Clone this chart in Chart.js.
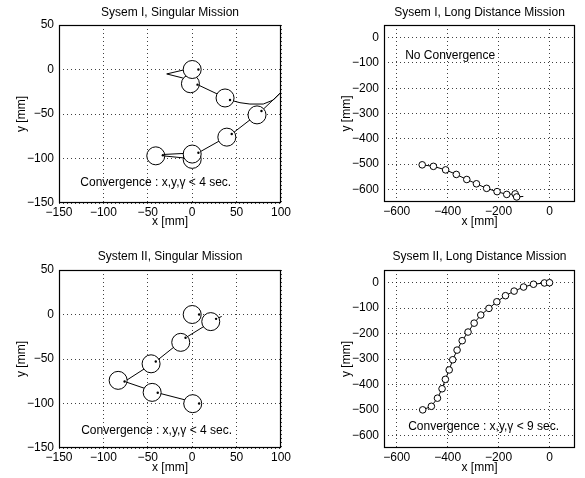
<!DOCTYPE html>
<html><head><meta charset="utf-8">
<script src="https://cdn.jsdelivr.net/npm/chart.js@4/dist/chart.umd.min.js"></script>
<style>
html,body{margin:0;padding:0;background:#fff;}
#wrap{position:relative;width:585px;height:478px;background:#fff;}
canvas{position:absolute;}
</style></head><body>
<div id="wrap">
<canvas id="c1" width="292" height="238" style="left:0px;top:0px;width:292px;height:238px"></canvas>
<canvas id="c2" width="293" height="238" style="left:292px;top:0px;width:293px;height:238px"></canvas>
<canvas id="c3" width="292" height="240" style="left:0px;top:238px;width:292px;height:240px"></canvas>
<canvas id="c4" width="293" height="240" style="left:292px;top:238px;width:293px;height:240px"></canvas>
</div>
<script>
// ---------- tick labels ----------
const xTicksSingular = [-150, -100, -50, 0, 50, 100];
const yTicksSingular = [-150, -100, -50, 0, 50];
const xTicksLong = [-600, -400, -200, 0];
const yTicksLong = [-600, -500, -400, -300, -200, -100, 0];

// ---------- System I, singular mission ----------
const s1PathX = [7, -33, -33, 7, 44.5, 78, 98.9, 91.3, 80, 65, 53.8, 42.6, 6, -10.7, -28.7, -10, 7];
const s1PathY = [-101, -97, -95.5, -93.5, -72.5, -46.6, -26.7, -34.3, -38.8, -38.8, -37.3, -34.3, -17, -9.5, -5, -0.6, 0];
const s1BodyX = [0, -41, 0, 39, 73, 37, -2, 0];
const s1BodyY = [-101, -97, -95, -76, -51, -32, -16, 0];
const s1HeadX = [-33, 7, 44.5, 78, 42.6, 6, 7];
const s1HeadY = [-96.4, -93.5, -72.5, -46.6, -34.3, -17, 0];

// ---------- System I, long distance mission ----------
const l1X = [-500, -456, -408, -366, -325, -287, -247, -206, -168, -135, -129];
const l1Y = [-503, -509, -523, -541, -561, -578, -596, -609, -620, -618, -630];
const l1TailX = [-129, -103];
const l1TailY = [-630, -628];

// ---------- System II, singular mission ----------
const s2PathX = [7.8, -38.8, -76.1, -41, -7.5, 26.9, 33.2];
const s2PathY = [-100, -88, -75.3, -52.8, -26.2, -4.9, -2.2];
const s2BodyX = [0.6, -45.1, -83.4, -46.3, -12.9, 20.9, 0];
const s2BodyY = [-100.2, -87.5, -74, -55.4, -31.3, -8, 0];
const s2HeadX = [7.8, -38.8, -76.1, -41, -7.5, 26.9, 7.8];
const s2HeadY = [-100, -88, -75.3, -52.8, -26.2, -4.9, 0];

// ---------- System II, long distance mission ----------
const l2X = [-498, -464, -440, -422, -409, -394, -380, -363, -343, -320, -296, -270, -238, -207, -173, -139, -102, -63, -20, 0];
const l2Y = [-500, -486, -454, -417, -380, -343, -303, -265, -228, -194, -159, -127, -101, -75, -51, -33, -17, -6, -1, 0];

// ---------- helpers ----------
const FAMILY = '"Liberation Sans", Arial, Helvetica, sans-serif';
const FS = 12;
Chart.defaults.font.family = FAMILY;
Chart.defaults.font.size = FS;
Chart.defaults.color = '#000';

function fmt(v) { return v < 0 ? '\u2212' + Math.abs(v) : String(v); }
function pts(xs, ys) { return xs.map((x, i) => ({x: x, y: ys[i]})); }

const boxPlugin = {
  id: 'box',
  afterDraw(chart) {
    const a = chart.chartArea, ctx = chart.ctx;
    ctx.save();
    ctx.strokeStyle = '#000';
    ctx.lineWidth = 1.2;
    ctx.strokeRect(Math.round(a.left) + 0.5, Math.round(a.top) + 0.5,
                   Math.round(a.right - a.left) - 1, Math.round(a.bottom - a.top) - 1);
    ctx.restore();
  }
};
const notePlugin = {
  id: 'note',
  afterDatasetsDraw(chart, args, opts) {
    if (!opts || !opts.text) return;
    const ctx = chart.ctx;
    const x = chart.scales.x.getPixelForValue(opts.x);
    const y = chart.scales.y.getPixelForValue(opts.y);
    ctx.save();
    ctx.font = FS + 'px ' + FAMILY;
    ctx.fillStyle = '#000';
    ctx.textAlign = 'left';
    ctx.textBaseline = 'middle';
    ctx.fillText(opts.text, x, y);
    ctx.restore();
  }
};

function makeScale(axis, min, max, ticks, title, size, titlePad, tickPad) {
  return {
    type: 'linear',
    position: axis === 'x' ? 'bottom' : 'left',
    min: min, max: max, bounds: 'data',
    afterBuildTicks: s => { s.ticks = ticks.map(v => ({value: v})); },
    afterFit: s => {
      if (axis === 'x') s.height = size; else s.width = size;
      s.paddingLeft = 0; s.paddingRight = 0; s.paddingTop = 0; s.paddingBottom = 0;
    },
    ticks: { callback: v => fmt(v), padding: tickPad, color: '#000', font: {size: FS},
             autoSkip: false, maxRotation: 0, minRotation: 0 },
    grid: { color: 'rgba(0,0,0,0.75)', lineWidth: 1, drawTicks: false },
    border: { display: false, dash: [1, 3] },
    title: { display: true, text: title, color: '#000', font: {size: FS},
             padding: axis === 'x' ? {top: 0, bottom: titlePad} : {top: titlePad, bottom: 0} }
  };
}

function lineDs(data, order) {
  return {data: data, showLine: true, borderColor: '#000', borderWidth: 1, pointRadius: 0,
          backgroundColor: '#000', tension: 0, fill: false, order: order};
}
function markDs(data, r, order) {
  return {data: data, showLine: false, pointRadius: r, borderColor: '#000',
          backgroundColor: '#fff', borderWidth: 1, order: order};
}
function dotDs(data, order) {
  return {data: data, showLine: false, pointRadius: 1.2, borderColor: '#000',
          backgroundColor: '#000', borderWidth: 0, order: order};
}

function make(id, cfg) {
  const cv = document.getElementById(id);
  const W = cv.width, H = cv.height;
  new Chart(cv, {
    type: 'scatter',
    data: { datasets: cfg.datasets },
    options: {
      responsive: false, animation: false, devicePixelRatio: 1, events: [],
      layout: { padding: {left: 0, top: 0, right: W - cfg.area.r, bottom: 0} },
      scales: {
        x: makeScale('x', cfg.xr[0], cfg.xr[1], cfg.xt, 'x [mm]', H - cfg.area.b, cfg.xTitlePad, 2),
        y: makeScale('y', cfg.yr[0], cfg.yr[1], cfg.yt, 'y [mm]', cfg.area.l, cfg.yTitlePad, 5)
      },
      plugins: {
        legend: {display: false}, tooltip: {enabled: false},
        title: { display: true, text: cfg.title, fullSize: false, color: '#000',
                 font: {size: FS, weight: 'normal'}, padding: cfg.titlePad },
        note: cfg.note
      }
    },
    plugins: [boxPlugin, notePlugin]
  });
}

make('c1', {
  title: 'Sysem I, Singular Mission',
  area: {l: 59, r: 281, b: 203}, titlePad: {top: 5.5, bottom: 5.1},
  xr: [-150, 100], yr: [-150, 50], xt: xTicksSingular, yt: yTicksSingular,
  xTitlePad: 9.1, yTitlePad: 14.8,
  note: {text: 'Convergence : x,y,\u03b3 < 4 sec.', x: -126, y: -127},
  datasets: [lineDs(pts(s1PathX, s1PathY), 3), markDs(pts(s1BodyX, s1BodyY), 9, 2), dotDs(pts(s1HeadX, s1HeadY), 1)]
});
make('c2', {
  title: 'Sysem I, Long Distance Mission',
  area: {l: 92, r: 283, b: 202}, titlePad: {top: 5.5, bottom: 5.1},
  xr: [-650, 100], yr: [-650, 50], xt: xTicksLong, yt: yTicksLong,
  xTitlePad: 9.1, yTitlePad: 47.5,
  note: {text: 'No Convergence', x: -567, y: -73},
  datasets: [lineDs(pts(l1TailX, l1TailY), 3), lineDs(pts(l1X, l1Y), 3), markDs(pts(l1X, l1Y), 3.3, 2)]
});
make('c3', {
  title: 'System II, Singular Mission',
  area: {l: 59, r: 281, b: 210}, titlePad: {top: 11.1, bottom: 6.5},
  xr: [-150, 100], yr: [-150, 50], xt: xTicksSingular, yt: yTicksSingular,
  xTitlePad: 2.8, yTitlePad: 14.8,
  note: {text: 'Convergence : x,y,\u03b3 < 4 sec.', x: -125, y: -131},
  datasets: [lineDs(pts(s2PathX, s2PathY), 3), markDs(pts(s2BodyX, s2BodyY), 9, 2), dotDs(pts(s2HeadX, s2HeadY), 1)]
});
make('c4', {
  title: 'Sysem II, Long Distance Mission',
  area: {l: 92, r: 283, b: 210}, titlePad: {top: 11.1, bottom: 6.5},
  xr: [-650, 100], yr: [-650, 50], xt: xTicksLong, yt: yTicksLong,
  xTitlePad: 2.8, yTitlePad: 47.5,
  note: {text: 'Convergence : x,y,\u03b3 < 9 sec.', x: -555, y: -568},
  datasets: [lineDs(pts(l2X, l2Y), 3), markDs(pts(l2X, l2Y), 3.3, 2)]
});
</script>
</body></html>
